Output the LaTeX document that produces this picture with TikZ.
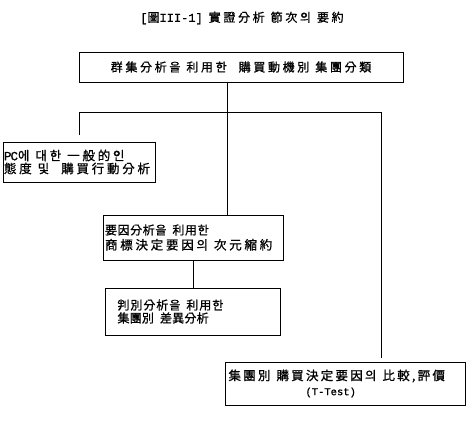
\documentclass[tikz,border=0pt]{standalone}
\usepackage{fontspec}
\newfontfamily\kr{Noto Sans CJK KR}[LetterSpace=22, FakeBold=1]
\newfontfamily\krmono{Liberation Mono}[FakeBold=1]
\newcommand\gp{\kern 6pt\relax}
\newcommand\gpp{\kern 12pt\relax}
\newcommand\ls[1]{\addfontfeature{LetterSpace=#1}}
\tikzset{
  box/.style={draw, line width=0.8pt, inner xsep=2pt, inner ysep=1pt, font=\kr\fontsize{12.5}{15}\selectfont},
  conn/.style={line width=0.8pt}
}
\begin{document}
\begin{tikzpicture}[x=1pt,y=-1pt]
\useasboundingbox (0,0) rectangle (466,425);
\node[font=\kr\fontsize{12}{14}\selectfont] (title) at (242,18) {{\krmono[}圖{\krmono III-1]}\gp 實證分析\gp 節次의\gp 要約};
\node[box, minimum width=324pt, minimum height=30pt, font=\kr\fontsize{12}{15}\selectfont] (top) at (241,67) {群集分析을\gp 利用한\gpp 購買動機別\gp 集團分類};
\node[box, minimum width=152pt, minimum height=40pt, text width=150pt, inner xsep=1pt, align=left, font=\kr\fontsize{12.5}{13}\selectfont] (left) at (79,162) {{\krmono P\kern-1pt C}에\gp 대한\gp 一般的인\\態度\gp 및\gpp 購買行動分析};
\node[box, minimum width=180pt, minimum height=45pt, text width=176pt, align=left] (mid1) at (193,237.5) {{\fontsize{12}{15}\selectfont\ls{5}要因分析을\gp 利用한}\\商標決定要因의\gp 次元縮約};
\node[box, minimum width=175pt, minimum height=47pt, text width=150pt, align=left, font=\kr\fontsize{12}{13}\selectfont] (mid2) at (192.5,311.5) {{\ls{8}判別分析을\gp 利用한}\\{\ls{2}集團別\gp 差異分析}};
\node[box, minimum width=240pt, minimum height=43pt, text width=233pt, align=left] (br) at (345,383.5) {{\ls{18}集團別\gp 購買決定要因의\gp 比較,評價}\\\hspace*{77pt}{\krmono\fontsize{10.5}{12}\selectfont(T-Test)}};
\coordinate (j) at (227,112);
\coordinate (hl) at (79,112);
\coordinate (hr) at (381,112);
\draw[conn] (top.south -| j) -- (mid1.north -| j);
\draw[conn] ([yshift=7pt]left.north) -- (hl) -- (hr) -- ([yshift=4pt]br.north -| hr);
\draw[conn] (mid1.south) -- (mid1.south |- mid2.north);
\end{tikzpicture}
\end{document}
